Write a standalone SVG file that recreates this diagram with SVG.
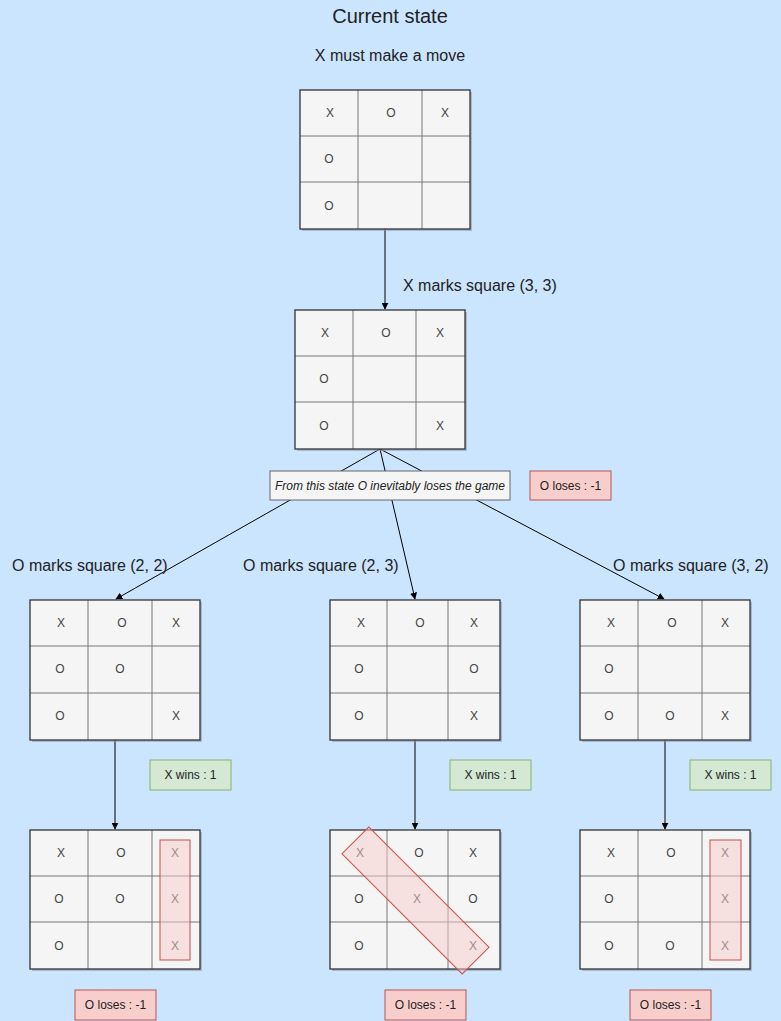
<svg xmlns="http://www.w3.org/2000/svg" width="781" height="1021" viewBox="0 0 781 1021">
<defs>
<style>
.bg{fill:#cce5ff}
.cell{fill:#f5f5f5}
.grid{stroke:#777;stroke-width:1;fill:none}
.frame{fill:none;stroke:#333;stroke-width:1.3}
.shadow{fill:#8a9bb0;opacity:0.6}
.t{font-family:"Liberation Sans",Arial,sans-serif;font-size:12px;fill:#444;text-anchor:middle}
.lbl{font-family:"Liberation Sans",Arial,sans-serif;font-size:16px;fill:#222}
.title{font-family:"Liberation Sans",Arial,sans-serif;font-size:20px;fill:#222;text-anchor:middle}
.bt{font-family:"Liberation Sans",Arial,sans-serif;font-size:12px;fill:#222;text-anchor:middle}
.hl{fill:#f8cecc;fill-opacity:0.5;stroke:#cc4c4c;stroke-width:1}
.lose{fill:#f8cecc;stroke:#b85450}
.win{fill:#d5e8d4;stroke:#82b366}
.note{fill:#f5f5f5;stroke:#666}
.edge{stroke:#000;stroke-width:1;fill:none;marker-end:url(#arr)}
</style>
<marker id="arr" viewBox="0 0 10 10" refX="9" refY="5" markerWidth="7" markerHeight="7" orient="auto" markerUnits="userSpaceOnUse">
<path d="M0,0 L10,5 L0,10 z" fill="#000"/>
</marker>
</defs>
<rect class="bg" x="0" y="0" width="781" height="1021"/>

<text class="title" x="390" y="23">Current state</text>
<text class="lbl" x="390" y="61" text-anchor="middle">X must make a move</text>

<g id="connectors">
<line class="edge" x1="385" y1="229" x2="385" y2="309"/>
<line class="edge" x1="380" y1="449" x2="116" y2="599"/>
<line class="edge" x1="380" y1="449" x2="415" y2="599"/>
<line class="edge" x1="380" y1="449" x2="664" y2="599"/>
<line class="edge" x1="115" y1="740" x2="115" y2="829"/>
<line class="edge" x1="415" y1="740" x2="415" y2="829"/>
<line class="edge" x1="665" y1="740" x2="665" y2="829"/>
</g>

<g id="labels">
<text class="lbl" x="403" y="291">X marks square (3, 3)</text>
<text class="lbl" x="12" y="571">O marks square (2, 2)</text>
<text class="lbl" x="243" y="571">O marks square (2, 3)</text>
<text class="lbl" x="613" y="571">O marks square (3, 2)</text>
</g>

<g id="board-current">
<rect class="shadow" x="302" y="92" width="170" height="139"/>
<rect class="cell" x="300" y="90" width="170" height="139"/>
<path class="grid" d="M358,90V229M422,90V229M300,136H470M300,182H470"/>
<rect class="frame" x="300" y="90" width="170" height="139"/>
<text class="t" x="330" y="117">X</text><text class="t" x="391" y="117">O</text><text class="t" x="445" y="117">X</text>
<text class="t" x="329" y="163">O</text>
<text class="t" x="329" y="210">O</text>
</g>

<g id="board-x33">
<rect class="shadow" x="297" y="312" width="170" height="139"/>
<rect class="cell" x="295" y="310" width="170" height="139"/>
<path class="grid" d="M353,310V449M416,310V449M295,356H465M295,402H465"/>
<rect class="frame" x="295" y="310" width="170" height="139"/>
<text class="t" x="325" y="337">X</text><text class="t" x="386" y="337">O</text><text class="t" x="440" y="337">X</text>
<text class="t" x="324" y="383">O</text>
<text class="t" x="324" y="430">O</text><text class="t" x="440" y="430">X</text>
</g>

<g id="note-inevitable">
<rect class="note" x="270" y="471" width="240" height="29"/>
<text class="bt" x="390" y="490" font-style="italic" fill="#333">From this state O inevitably loses the game</text>
</g>

<g id="result-top">
<rect class="lose" x="530" y="471" width="81" height="29"/>
<text class="bt" x="570.5" y="490">O loses : -1</text>
</g>

<g id="board-o22">
<rect class="shadow" x="32" y="602" width="170" height="140"/>
<rect class="cell" x="30" y="600" width="170" height="140"/>
<path class="grid" d="M88,600V740M152,600V740M30,646H200M30,693H200"/>
<rect class="frame" x="30" y="600" width="170" height="140"/>
<text class="t" x="61" y="627">X</text><text class="t" x="122" y="627">O</text><text class="t" x="176" y="627">X</text>
<text class="t" x="60" y="673">O</text><text class="t" x="120" y="673">O</text>
<text class="t" x="60" y="720">O</text><text class="t" x="176" y="720">X</text>
</g>

<g id="board-o23">
<rect class="shadow" x="332" y="602" width="170" height="140"/>
<rect class="cell" x="330" y="600" width="170" height="140"/>
<path class="grid" d="M387,600V740M448,600V740M330,646H500M330,693H500"/>
<rect class="frame" x="330" y="600" width="170" height="140"/>
<text class="t" x="361" y="627">X</text><text class="t" x="420" y="627">O</text><text class="t" x="474" y="627">X</text>
<text class="t" x="359" y="673">O</text><text class="t" x="474" y="673">O</text>
<text class="t" x="359" y="720">O</text><text class="t" x="474" y="720">X</text>
</g>

<g id="board-o32">
<rect class="shadow" x="582" y="602" width="170" height="140"/>
<rect class="cell" x="580" y="600" width="170" height="140"/>
<path class="grid" d="M638,600V740M702,600V740M580,646H750M580,693H750"/>
<rect class="frame" x="580" y="600" width="170" height="140"/>
<text class="t" x="611" y="627">X</text><text class="t" x="672" y="627">O</text><text class="t" x="725" y="627">X</text>
<text class="t" x="609" y="673">O</text>
<text class="t" x="609" y="720">O</text><text class="t" x="670" y="720">O</text><text class="t" x="725" y="720">X</text>
</g>

<g id="win-left"><rect class="win" x="150" y="760" width="81" height="30"/><text class="bt" x="190.5" y="779">X wins : 1</text></g>
<g id="win-mid"><rect class="win" x="450" y="760" width="81" height="30"/><text class="bt" x="490.5" y="779">X wins : 1</text></g>
<g id="win-right"><rect class="win" x="690" y="760" width="81" height="30"/><text class="bt" x="730.5" y="779">X wins : 1</text></g>

<g id="board-final-left">
<rect class="shadow" x="32" y="832" width="170" height="139"/>
<rect class="cell" x="30" y="830" width="170" height="139"/>
<path class="grid" d="M88,830V969M152,830V969M30,876H200M30,922H200"/>
<rect class="frame" x="30" y="830" width="170" height="139"/>
<text class="t" x="61" y="857">X</text><text class="t" x="121" y="857">O</text><text class="t" x="175" y="857">X</text>
<text class="t" x="59" y="903">O</text><text class="t" x="120" y="903">O</text><text class="t" x="175" y="903">X</text>
<text class="t" x="59" y="950">O</text><text class="t" x="175" y="950">X</text>
<rect class="hl" x="160" y="840" width="30" height="120"/>
</g>

<g id="board-final-mid">
<rect class="shadow" x="332" y="832" width="170" height="139"/>
<rect class="cell" x="330" y="830" width="170" height="139"/>
<path class="grid" d="M387,830V969M448,830V969M330,876H500M330,922H500"/>
<rect class="frame" x="330" y="830" width="170" height="139"/>
<text class="t" x="360" y="857">X</text><text class="t" x="419" y="857">O</text><text class="t" x="473" y="857">X</text>
<text class="t" x="359" y="903">O</text><text class="t" x="417" y="903">X</text><text class="t" x="473" y="903">O</text>
<text class="t" x="359" y="950">O</text><text class="t" x="473" y="950">X</text>
<rect class="hl" x="330.5" y="881.5" width="170" height="38" transform="rotate(45 415.5 900.5)"/>
</g>

<g id="board-final-right">
<rect class="shadow" x="582" y="832" width="170" height="139"/>
<rect class="cell" x="580" y="830" width="170" height="139"/>
<path class="grid" d="M638,830V969M702,830V969M580,876H750M580,922H750"/>
<rect class="frame" x="580" y="830" width="170" height="139"/>
<text class="t" x="611" y="857">X</text><text class="t" x="671" y="857">O</text><text class="t" x="725" y="857">X</text>
<text class="t" x="609" y="903">O</text><text class="t" x="725" y="903">X</text>
<text class="t" x="609" y="950">O</text><text class="t" x="670" y="950">O</text><text class="t" x="725" y="950">X</text>
<rect class="hl" x="710" y="840" width="31" height="120"/>
</g>

<g id="lose-left"><rect class="lose" x="75" y="990" width="81" height="30"/><text class="bt" x="115.5" y="1009">O loses : -1</text></g>
<g id="lose-mid"><rect class="lose" x="385" y="990" width="81" height="30"/><text class="bt" x="425.5" y="1009">O loses : -1</text></g>
<g id="lose-right"><rect class="lose" x="630" y="990" width="81" height="30"/><text class="bt" x="670.5" y="1009">O loses : -1</text></g>
</svg>
